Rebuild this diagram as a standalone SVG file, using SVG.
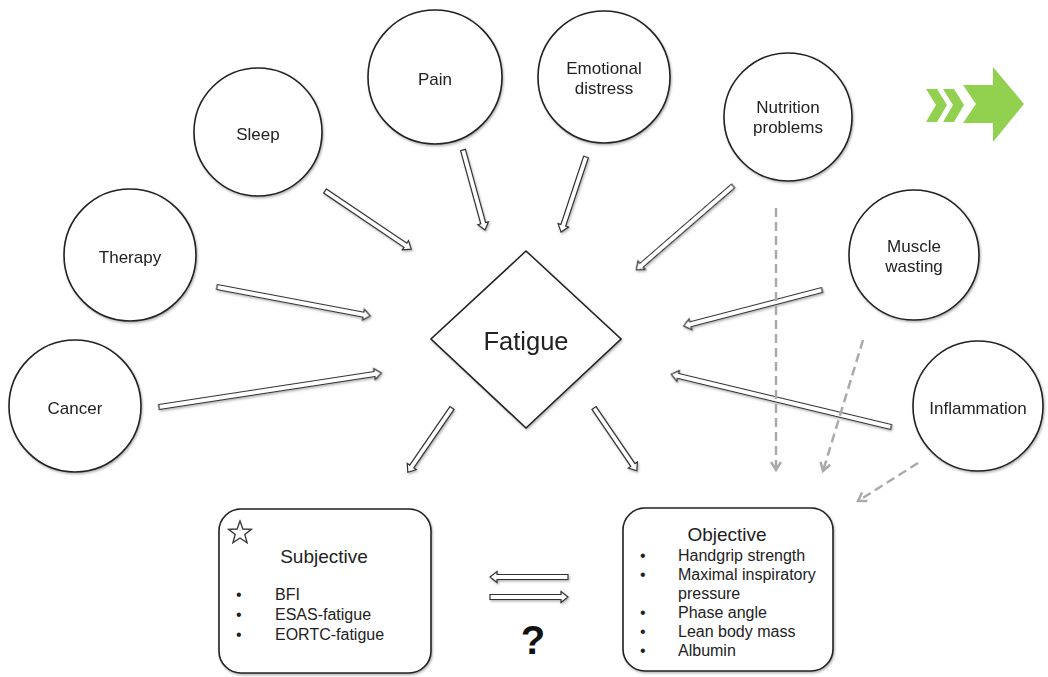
<svg xmlns="http://www.w3.org/2000/svg" width="1048" height="677" viewBox="0 0 1048 677">
<style>
.node{fill:#fff;stroke:#222;stroke-width:1.6}
.lbl{font-family:"Liberation Sans",Arial,sans-serif;font-size:17px;fill:#222;text-anchor:middle}
.txt{font-family:"Liberation Sans",Arial,sans-serif;font-size:16px;fill:#222}
.blk{fill:#fff;stroke:#333;stroke-width:1.2;stroke-linejoin:miter}
.dash{fill:none;stroke:#aaa;stroke-width:2.5;stroke-dasharray:9 5}
</style>
<defs>
<filter id="sh" x="-10%" y="-10%" width="130%" height="130%">
<feDropShadow dx="1" dy="1.5" stdDeviation="1" flood-color="#000" flood-opacity="0.3"/>
</filter>
<marker id="chev" viewBox="0 0 12 12" refX="10" refY="6" markerWidth="12" markerHeight="12" markerUnits="userSpaceOnUse" orient="auto">
<path d="M2,1 L10,6 L2,11" fill="none" stroke="#aaa" stroke-width="2.5"/>
</marker>
</defs>
<rect width="1048" height="677" fill="#fff"/>

<g id="green-arrow" fill="#92d050">
<polygon points="926,89 937,89 947,105 937,122 926,122 936,105"/>
<polygon points="943,89 954,89 964,105 954,122 943,122 953,105"/>
<polygon points="963,85 993,85 993,67 1024,104 993,142 993,123 963,123 976,104"/>
</g>

<g id="cancer" filter="url(#sh)"><circle class="node" cx="75" cy="406" r="66"/><text class="lbl" x="75" y="414">Cancer</text></g>
<g id="therapy" filter="url(#sh)"><circle class="node" cx="130" cy="255" r="66"/><text class="lbl" x="130" y="263">Therapy</text></g>
<g id="sleep" filter="url(#sh)"><circle class="node" cx="258" cy="132" r="64"/><text class="lbl" x="258" y="140">Sleep</text></g>
<g id="pain" filter="url(#sh)"><circle class="node" cx="435" cy="77" r="67"/><text class="lbl" x="435" y="85">Pain</text></g>
<g id="emotional" filter="url(#sh)"><circle class="node" cx="604" cy="77" r="66"/><text class="lbl" x="604" y="74">Emotional</text><text class="lbl" x="604" y="94">distress</text></g>
<g id="nutrition" filter="url(#sh)"><circle class="node" cx="788" cy="117" r="64"/><text class="lbl" x="788" y="113">Nutrition</text><text class="lbl" x="788" y="133">problems</text></g>
<g id="muscle" filter="url(#sh)"><circle class="node" cx="914" cy="255" r="65"/><text class="lbl" x="914" y="252">Muscle</text><text class="lbl" x="914" y="272">wasting</text></g>
<g id="inflammation" filter="url(#sh)"><circle class="node" cx="978" cy="406" r="65"/><text class="lbl" x="978" y="414">Inflammation</text></g>

<g id="fatigue" filter="url(#sh)"><polygon class="node" points="526,251 621,339 526,428 431,339"/><text class="lbl" x="526" y="350" style="font-size:25.5px">Fatigue</text></g>

<g id="subjective">
<rect class="node" x="219" y="509" width="212" height="164" rx="22" filter="url(#sh)"/>
<polygon points="240,521 242.9,529 251.4,529.3 244.8,534.5 247.1,542.7 240,538 232.9,542.7 235.2,534.5 228.6,529.3 237.1,529" fill="none" stroke="#333" stroke-width="1.3"/>
<text class="lbl" x="324" y="563" style="font-size:19px">Subjective</text>
<text class="txt" x="236" y="600">•</text><text class="txt" x="275" y="600">BFI</text>
<text class="txt" x="236" y="620">•</text><text class="txt" x="275" y="620">ESAS-fatigue</text>
<text class="txt" x="236" y="640">•</text><text class="txt" x="275" y="640">EORTC-fatigue</text>
</g>

<g id="objective">
<rect class="node" x="623" y="508" width="210" height="163" rx="22" filter="url(#sh)"/>
<text class="lbl" x="727" y="541" style="font-size:19px">Objective</text>
<text class="txt" x="640" y="561">•</text><text class="txt" x="678" y="561">Handgrip strength</text>
<text class="txt" x="640" y="580">•</text><text class="txt" x="678" y="580">Maximal inspiratory</text>
<text class="txt" x="678" y="599">pressure</text>
<text class="txt" x="640" y="618">•</text><text class="txt" x="678" y="618">Phase angle</text>
<text class="txt" x="640" y="637">•</text><text class="txt" x="678" y="637">Lean body mass</text>
<text class="txt" x="640" y="656">•</text><text class="txt" x="678" y="656">Albumin</text>
</g>

<g id="question"><text x="533" y="654" style="font-family:'Liberation Sans',Arial,sans-serif;font-size:40px;font-weight:bold;fill:#111" text-anchor="middle">?</text></g>

<g id="connectors" filter="url(#sh)">
<polygon class="blk" transform="translate(325,191) rotate(34)" points="0,-2.5 97,-2.5 97,-5.5 104,0 97,5.5 97,2.5 0,2.5"/>
<polygon class="blk" transform="translate(463,150) rotate(74.6)" points="0,-2.5 76,-2.5 76,-5.5 83,0 76,5.5 76,2.5 0,2.5"/>
<polygon class="blk" transform="translate(586,157) rotate(108.4)" points="0,-2.5 72,-2.5 72,-5.5 79,0 72,5.5 72,2.5 0,2.5"/>
<polygon class="blk" transform="translate(733,186) rotate(139.1)" points="0,-2.5 121,-2.5 121,-5.5 128,0 121,5.5 121,2.5 0,2.5"/>
<polygon class="blk" transform="translate(217,287) rotate(10.7)" points="0,-2.5 149,-2.5 149,-5.5 156,0 149,5.5 149,2.5 0,2.5"/>
<polygon class="blk" transform="translate(159,407) rotate(-8.7)" points="0,-2.5 218,-2.5 218,-5.5 225,0 218,5.5 218,2.5 0,2.5"/>
<polygon class="blk" transform="translate(822,290) rotate(165.4)" points="0,-2.5 136,-2.5 136,-5.5 143,0 136,5.5 136,2.5 0,2.5"/>
<polygon class="blk" transform="translate(891,427) rotate(193.5)" points="0,-2.5 219,-2.5 219,-5.5 226,0 219,5.5 219,2.5 0,2.5"/>
<polygon class="blk" transform="translate(452,408) rotate(124.5)" points="0,-2.5 71,-2.5 71,-5.5 78,0 71,5.5 71,2.5 0,2.5"/>
<polygon class="blk" transform="translate(594,408) rotate(55.7)" points="0,-2.5 69,-2.5 69,-5.5 76,0 69,5.5 69,2.5 0,2.5"/>
<polygon class="blk" transform="translate(568,577) rotate(180)" points="0,-2.5 71,-2.5 71,-5.5 78,0 71,5.5 71,2.5 0,2.5"/>
<polygon class="blk" transform="translate(490,597)" points="0,-2.5 71,-2.5 71,-5.5 78,0 71,5.5 71,2.5 0,2.5"/>
</g>
<g id="dashed-connectors">
<line class="dash" x1="776" y1="208" x2="776" y2="470" marker-end="url(#chev)"/>
<line class="dash" x1="863" y1="340" x2="823" y2="471" marker-end="url(#chev)"/>
<line class="dash" x1="918" y1="463" x2="858" y2="501" marker-end="url(#chev)"/>
</g>
</svg>
